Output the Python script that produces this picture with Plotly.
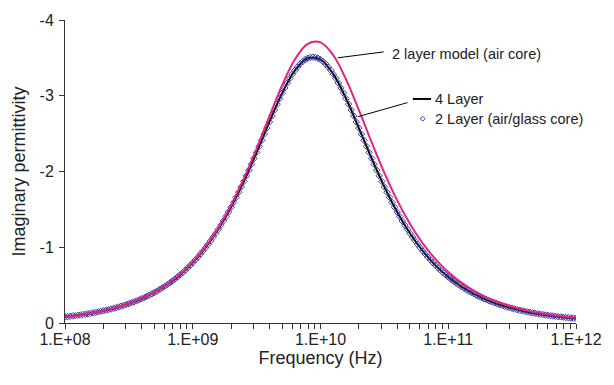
import numpy as np
import plotly.graph_objects as go

# ---------------- data ----------------
freq_markers = np.logspace(8, 12, 201)   # Hz, 50 points per decade
freq_lines = np.logspace(8, 12, 41)      # Hz, 10 points per decade

two_layer_glass = [
    -0.081, -0.084, -0.088, -0.093, -0.097, -0.101, -0.106, -0.111, -0.116, -0.122,
    -0.128, -0.134, -0.140, -0.147, -0.153, -0.161, -0.168, -0.176, -0.185, -0.193,
    -0.202, -0.212, -0.222, -0.232, -0.243, -0.255, -0.267, -0.279, -0.292, -0.306,
    -0.320, -0.335, -0.351, -0.367, -0.385, -0.403, -0.421, -0.441, -0.462, -0.483,
    -0.506, -0.529, -0.554, -0.580, -0.607, -0.635, -0.664, -0.695, -0.727, -0.761,
    -0.796, -0.832, -0.870, -0.910, -0.951, -0.994, -1.039, -1.085, -1.134, -1.184,
    -1.237, -1.291, -1.347, -1.405, -1.466, -1.528, -1.592, -1.659, -1.727, -1.797,
    -1.869, -1.943, -2.018, -2.095, -2.173, -2.252, -2.332, -2.412, -2.493, -2.574,
    -2.654, -2.734, -2.812, -2.889, -2.963, -3.035, -3.103, -3.168, -3.229, -3.285,
    -3.335, -3.380, -3.419, -3.451, -3.477, -3.495, -3.506,
    -3.510,
    -3.506, -3.495, -3.477, -3.451, -3.419, -3.380, -3.335, -3.285, -3.229, -3.168,
    -3.103, -3.035, -2.963, -2.889, -2.812, -2.734, -2.654, -2.574, -2.493, -2.412,
    -2.332, -2.252, -2.173, -2.095, -2.018, -1.943, -1.869, -1.797, -1.727, -1.659,
    -1.592, -1.528, -1.466, -1.405, -1.347, -1.291, -1.237, -1.184, -1.134, -1.085,
    -1.039, -0.994, -0.951, -0.910, -0.870, -0.832, -0.796, -0.761, -0.727, -0.695,
    -0.664, -0.635, -0.607, -0.580, -0.554, -0.529, -0.506, -0.483, -0.462, -0.441,
    -0.421, -0.403, -0.385, -0.367, -0.351, -0.335, -0.320, -0.306, -0.292, -0.279,
    -0.267, -0.255, -0.243, -0.232, -0.222, -0.212, -0.202, -0.193, -0.185, -0.176,
    -0.168, -0.161, -0.153, -0.147, -0.140, -0.134, -0.128, -0.122, -0.116, -0.111,
    -0.106, -0.101, -0.097, -0.093, -0.088, -0.084, -0.081, -0.077, -0.073, -0.070,
    -0.067, -0.064, -0.061,
]

four_layer = [
    -0.081, -0.101, -0.128, -0.161, -0.202, -0.255, -0.320, -0.403, -0.506, -0.635,
    -0.796, -0.994, -1.237, -1.528, -1.869, -2.252, -2.654, -3.035, -3.335, -3.495,
    -3.477, -3.285, -2.963, -2.574, -2.173, -1.797, -1.466, -1.184, -0.951, -0.761,
    -0.607, -0.483, -0.385, -0.306, -0.243, -0.193, -0.153, -0.122, -0.097, -0.077,
    -0.061,
]

two_layer_air = [
    -0.082, -0.103, -0.129, -0.163, -0.205, -0.258, -0.324, -0.408, -0.512, -0.643,
    -0.806, -1.008, -1.255, -1.553, -1.905, -2.303, -2.728, -3.140, -3.481, -3.685,
    -3.704, -3.535, -3.216, -2.813, -2.387, -1.981, -1.619, -1.311, -1.053, -0.843,
    -0.673, -0.536, -0.427, -0.339, -0.270, -0.214, -0.170, -0.135, -0.108, -0.085,
    -0.068,
]

x_tick_labels = ["1.E+08", "1.E+09", "1.E+10", "1.E+11", "1.E+12"]
y_tick_values = [0, -1, -2, -3, -4]
y_tick_labels = ["0", "-1", "-2", "-3", "-4"]

series_names = ["4 Layer", "2 Layer (air/glass core)", "2 layer model (air core)"]

# ---------------- figure ----------------
FONT = "Liberation Sans, Arial, sans-serif"
PINK = "#E8207E"
BLUE = "#3a3aa6"

fig = go.Figure()
fig.add_trace(go.Scatter(x=freq_lines, y=four_layer, mode="lines",
                         line=dict(color="black", width=2, shape="spline"),
                         name=series_names[0], showlegend=False))
fig.add_trace(go.Scatter(x=freq_markers, y=two_layer_glass, mode="markers",
                         marker=dict(symbol="diamond-open", size=5,
                                     color=BLUE, line=dict(width=1, color=BLUE)),
                         name=series_names[1], showlegend=False))
fig.add_trace(go.Scatter(x=freq_lines, y=two_layer_air, mode="lines",
                         line=dict(color=PINK, width=2, shape="spline"),
                         name=series_names[2], showlegend=False))

# x tick positions: decades labelled, 2..9 unlabelled minor ticks
tick_x, tick_t = [], []
for i, lab in enumerate(x_tick_labels):
    dec = 10 ** (8 + i)
    tick_x.append(dec)
    tick_t.append(lab)
    if i < len(x_tick_labels) - 1:
        for m in range(2, 10):
            tick_x.append(m * dec)
            tick_t.append("")

fig.update_xaxes(type="log", range=[8, 12], tickmode="array",
                 tickvals=tick_x, ticktext=tick_t,
                 ticks="outside", ticklen=5, tickwidth=1, tickcolor="#333",
                 showline=True, linecolor="#333", linewidth=1,
                 showgrid=False, zeroline=False, ticklabelstandoff=-3,
                 tickfont=dict(family=FONT, size=16, color="#222"),
                 title=dict(text="Frequency (Hz)",
                            font=dict(family=FONT, size=18, color="#222"),
                            standoff=0))
fig.update_yaxes(range=[0, -4], tickmode="array",
                 tickvals=y_tick_values, ticktext=y_tick_labels,
                 ticks="outside", ticklen=5, tickwidth=1, tickcolor="#333",
                 showline=True, linecolor="#333", linewidth=1,
                 showgrid=False, zeroline=False, ticklabelstandoff=2,
                 tickfont=dict(family=FONT, size=16, color="#222"),
                 title=dict(text="Imaginary permittivity",
                            font=dict(family=FONT, size=18, color="#222"),
                            standoff=9))

L, R, T, B = 65, 29, 16, 62
W, H = 614, 385
pw, ph = W - L - R, H - T - B


def px(x):
    return (x - L) / pw


def py(y):
    return (H - B - y) / ph


shapes = [
    # leader line to the pink curve
    dict(type="line", xref="paper", yref="paper",
         x0=px(342.7), y0=py(54.3), x1=px(389.3), y1=py(48.3),
         line=dict(color="black", width=1)),
    # leader line to the black / blue curves
    dict(type="line", xref="paper", yref="paper",
         x0=px(363), y0=py(114), x1=px(413.5), y1=py(99.7),
         line=dict(color="black", width=1)),
    # legend line sample
    dict(type="line", xref="paper", yref="paper",
         x0=px(419), y0=py(96), x1=px(437.5), y1=py(96),
         line=dict(color="black", width=2)),
    # legend diamond sample
    dict(type="path", xref="paper", yref="paper",
         path=f"M {px(429)},{py(113.5)} L {px(431.5)},{py(116)} "
              f"L {px(429)},{py(118.5)} L {px(426.5)},{py(116)} Z",
         line=dict(color=BLUE, width=1), fillcolor="rgba(0,0,0,0)"),
]

annotations = [
    dict(text=series_names[2], xref="paper", yref="paper",
         x=px(396), y=py(50), xanchor="left", yanchor="middle",
         showarrow=False, font=dict(family=FONT, size=14.5, color="#222")),
    dict(text=series_names[0], xref="paper", yref="paper",
         x=px(439), y=py(96.5), xanchor="left", yanchor="middle",
         showarrow=False, font=dict(family=FONT, size=14.5, color="#222")),
    dict(text=series_names[1], xref="paper", yref="paper",
         x=px(439), y=py(116.5), xanchor="left", yanchor="middle",
         showarrow=False, font=dict(family=FONT, size=14.5, color="#222")),
]

fig.update_layout(width=W, height=H, autosize=False,
                  margin=dict(l=L, r=R, t=T, b=B, pad=0),
                  paper_bgcolor="white", plot_bgcolor="white",
                  showlegend=False, shapes=shapes, annotations=annotations,
                  font=dict(family=FONT))

fig.write_html("out.html")
